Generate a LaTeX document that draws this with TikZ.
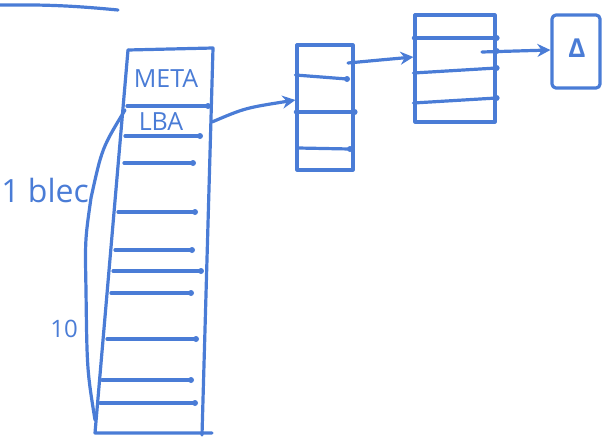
\documentclass[tikz,border=0pt]{standalone}
\usepackage{fontspec}
\setsansfont{Open Sans}
\usetikzlibrary{arrows.meta}
\begin{document}
\begin{tikzpicture}[x=1pt,y=-1pt,
  pen/.style={draw=penblue,line width=3.2pt,line cap=round,line join=round},
  rowline/.style={pen},
  pdot/.style={circle,fill=penblue,inner sep=0pt,minimum size=6pt},
  blk/.style={pen,rectangle,inner sep=0pt},
  lbl/.style={text=penblue,font=\sffamily,inner sep=0pt},
  arr/.style={pen,-{Stealth[length=13pt,width=13pt]}}]
\definecolor{penblue}{RGB}{74,124,214}
\useasboundingbox (0,0) rectangle (603,439);
% top-left stroke
\coordinate (t1) at (0,5);
\coordinate (t2) at (118,10);
\draw[pen] (t1) to[bend left=3] (t2);
% main column corners
\coordinate (mTL) at (128,50);
\coordinate (mTR) at (213,48);
\coordinate (mBR) at (202,435);
\coordinate (mBL) at (95,433);
\draw[pen] (mTL) -- (mTR) -- (mBR);
\draw[pen] (mTL) -- (mBL) -- (212,433);
% rows
\foreach \n/\y/\xl/\xr in {a/106/127/208,b/136/125/200,c/163/124/193,d/212/118/195,e/250/115/192,f/271/113/201,g/293/111/191,h/339/107/196,i/380/102/191,j/403/100/195}{
  \draw[rowline] (\xl,\y) -- (\xr,\y) node[pdot] (r\n) {};
}
\node[lbl,font=\sffamily\fontsize{25}{27}\selectfont] (meta) at (166,79) {META};
\node[lbl,font=\sffamily\fontsize{25}{27}\selectfont] (lba) at (161,122) {LBA};
% brace line
\coordinate (b1) at (125,110);
\coordinate (b2) at (91,198);
\coordinate (b3) at (86,290);
\coordinate (b4) at (95,420);
\draw[pen] (b1) .. controls (102,148) .. (b2) .. controls (85,240) .. (b3) .. controls (87,370) .. (b4);
\node[lbl,font=\sffamily\fontsize{32}{34}\selectfont,anchor=base east] (blec) at (89,202) {1 blec};
\node[lbl,font=\sffamily\fontsize{24}{26}\selectfont,anchor=base] (ten) at (64,337) {10};
% block 2
\node[blk,minimum width=56pt,minimum height=125pt] (B2) at (325,107.5) {};
\draw[rowline] (B2.west |- 0,75) -- (347,79) node[pdot] (b2a) {};
\draw[rowline] (B2.west |- 0,112) -- (B2.east |- 0,112) node[pdot] {};
\draw[rowline] (298,148) -- (350,149) node[pdot] {};
% block 3
\node[blk,minimum width=80pt,minimum height=107pt] (B3) at (455,68.5) {};
\draw[rowline] (B3.west |- 0,38) -- (B3.east |- 0,38) node[pdot] {};
\draw[rowline] (B3.west |- 0,73) -- (B3.east |- 0,68) node[pdot] {};
\draw[rowline] (B3.west |- 0,103) -- (B3.east |- 0,98) node[pdot] {};
% block 4
\node[blk,rounded corners=4pt,minimum width=48pt,minimum height=73pt] (B4) at (576,51.5) {};
\node[lbl,font=\sffamily\bfseries\fontsize{26}{28}\selectfont] (delta) at (577,48) {Δ};
% arrows
\coordinate (s1) at (212,122);
\coordinate (s2) at (348,63);
\coordinate (s3) at (482,52);
\node[pdot] (d3) at (B3.east |- 0,51) {};
\draw[arr] (s1) .. controls (245,108) .. (B2.west |- 0,100);
\draw[arr] (s2) .. controls (380,60) .. (B3.west |- 0,57);
\draw[arr] (s3) -- (B4.west |- 0,50);
\end{tikzpicture}
\end{document}
